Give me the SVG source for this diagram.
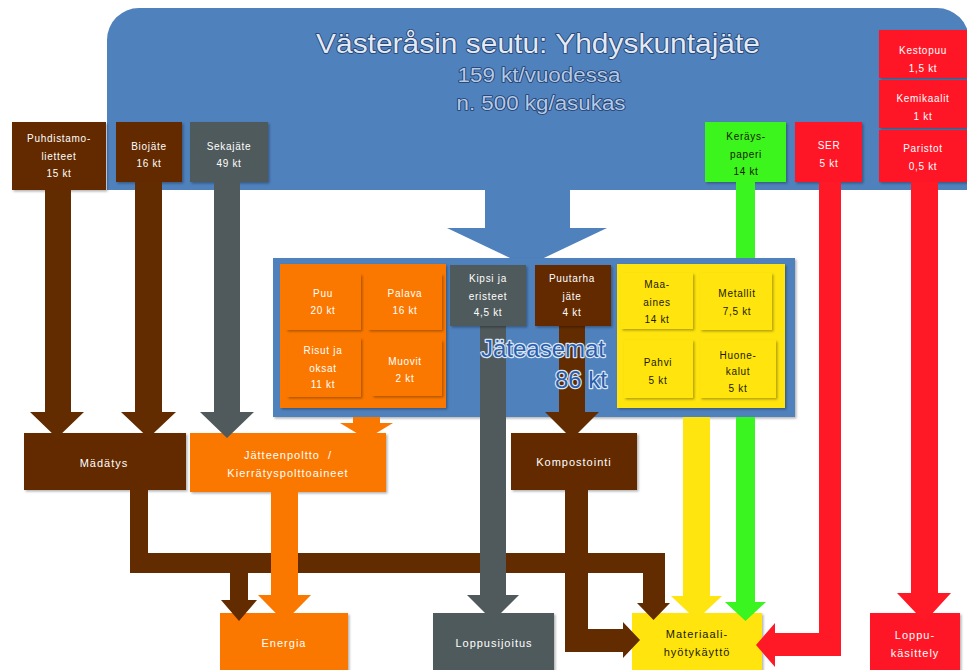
<svg xmlns="http://www.w3.org/2000/svg" width="967" height="670" viewBox="0 0 967 670">
<defs>
<filter id="sh" x="-10%" y="-10%" width="130%" height="130%">
<feDropShadow dx="1.5" dy="1.5" stdDeviation="1.2" flood-color="#000" flood-opacity="0.3"/>
</filter>
<style>
.brown{fill:#632c00}
.gray{fill:#505a5c}
.orange{fill:#fb7800}
.yellow{fill:#ffe50f}
.green{fill:#3af51f}
.red{fill:#ff1826}
.blue{fill:#4f81bd}
.box{filter:url(#sh)}
text{font-family:"Liberation Sans","Open Sans",sans-serif;text-anchor:middle}
.w{fill:#fff;font-size:10px;letter-spacing:0.7px}
.d{fill:#1a1a00;font-size:10px;letter-spacing:0.7px}
.lw{fill:#fff;font-size:11px;letter-spacing:1px}
.ld{fill:#1a1a00;font-size:11px;letter-spacing:1px}
.title{fill:#e3eaf4;stroke:#1f3d6c;stroke-width:1.6px;paint-order:stroke;stroke-linejoin:round}
.sub{fill:#b4c9e6;stroke:#1f3d6c;stroke-width:1.6px;paint-order:stroke;stroke-linejoin:round}
.jt{fill:#2a5eab;stroke:#dbe6f5;stroke-width:2.4px;paint-order:stroke;stroke-linejoin:round;font-size:24px;text-anchor:end}
</style>
</defs>

<g id="seutu">
<path class="blue" d="M107,190 V40 A32,32 0 0 1 139,8 H937 A32,32 0 0 1 969,40 V190 H570 V228 H607 L527,266 L447,228 H485 V190 Z"/>
<text class="title" x="538" y="53" font-size="28" textLength="444" lengthAdjust="spacingAndGlyphs">Västeråsin seutu: Yhdyskuntajäte</text>
<text class="sub" x="539" y="82" font-size="20" textLength="163" lengthAdjust="spacingAndGlyphs">159 kt/vuodessa</text>
<text class="sub" x="541" y="110" font-size="20" textLength="169" lengthAdjust="spacingAndGlyphs">n. 500 kg/asukas</text>
</g>

<g id="jateasemat">
<rect class="blue box" x="273" y="258" width="522" height="159"/>
</g>

<g id="puhdistamolietteet">
<rect class="brown box" x="12" y="122" width="94" height="68"/>
<text class="w" x="59" y="142">Puhdistamo-</text>
<text class="w" x="59" y="160">lietteet</text>
<text class="w" x="59" y="177">15 kt</text>
</g>
<g id="biojate">
<rect class="brown box" x="116" y="122" width="66" height="60"/>
<text class="w" x="149" y="150">Biojäte</text>
<text class="w" x="149" y="167">16 kt</text>
</g>
<g id="sekajate">
<rect class="gray box" x="190" y="122" width="78" height="60"/>
<text class="w" x="229" y="150">Sekajäte</text>
<text class="w" x="229" y="167">49 kt</text>
</g>
<g id="kerayspaperi">
<rect class="green box" x="705" y="122" width="81" height="60"/>
<text class="d" x="746" y="140">Keräys-</text>
<text class="d" x="746" y="158">paperi</text>
<text class="d" x="746" y="175">14 kt</text>
</g>
<g id="ser">
<rect class="red box" x="795" y="122" width="67" height="60"/>
<text class="w" x="829" y="149">SER</text>
<text class="w" x="829" y="167">5 kt</text>
</g>
<g id="kestopuu">
<rect class="red box" x="879" y="30" width="90" height="48"/>
<text class="w" x="923" y="54">Kestopuu</text>
<text class="w" x="923" y="72">1,5 kt</text>
</g>
<g id="kemikaalit">
<rect class="red box" x="879" y="80" width="90" height="48"/>
<text class="w" x="923" y="102">Kemikaalit</text>
<text class="w" x="923" y="120">1 kt</text>
</g>
<g id="paristot">
<rect class="red box" x="879" y="130" width="90" height="52"/>
<text class="w" x="923" y="152">Paristot</text>
<text class="w" x="923" y="170">0,5 kt</text>
</g>

<g id="madatys">
<rect class="brown box" x="24" y="433" width="162" height="57"/>
<text class="lw" x="104" y="467">Mädätys</text>
</g>
<g id="jatteenpoltto">
<rect class="orange box" x="190" y="433" width="196" height="59"/>
<text class="lw" x="288" y="459" xml:space="preserve">Jätteenpoltto  /</text>
<text class="lw" x="288" y="477">Kierrätyspolttoaineet</text>
</g>
<g id="kompostointi">
<rect class="brown box" x="511" y="433" width="126" height="57"/>
<text class="lw" x="574" y="466">Kompostointi</text>
</g>
<g id="energia">
<rect class="orange box" x="220" y="613" width="128" height="60"/>
<text class="lw" x="284" y="647">Energia</text>
</g>
<g id="loppusijoitus">
<rect class="gray box" x="433" y="613" width="121" height="60"/>
<text class="lw" x="494" y="647">Loppusijoitus</text>
</g>
<g id="materiaalihyotykaytto">
<rect class="yellow box" x="632" y="613" width="130" height="60"/>
<text class="ld" x="697" y="638">Materiaali-</text>
<text class="ld" x="697" y="656">hyötykäyttö</text>
</g>
<g id="loppukasittely">
<rect class="red box" x="870" y="613" width="90" height="60"/>
<text class="lw" x="915" y="639">Loppu-</text>
<text class="lw" x="915" y="657">käsittely</text>
</g>

<g id="connectors">
<polygon class="brown" points="45,190 71,190 71,412 84,412 57,438 30,412 45,412"/>
<polygon class="brown" points="135,182 162,182 162,412 176,412 148.5,438 121,412 135,412"/>
<polygon class="gray" points="214,182 240,182 240,412 254,412 227,438 200,412 214,412"/>
<polygon class="orange" points="353,417 380,417 380,423 393,423 366.5,439 340,423 353,423"/>
<path class="brown" d="M130,490 H148 V553 H665 V603 H670 L653.5,620 L637,603 H643 V573 H248 V600 H257 L239,621 L221,600 H230 V573 H130 Z"/>
<polygon class="orange" points="271,492 298,492 298,595 311,595 284.5,622 258,595 271,595"/>
<polygon class="gray" points="480,326 506,326 506,595 519,595 493,621 467,595 480,595"/>
<polygon class="brown" points="559,326 585,326 585,412 599,412 572,439 545,412 559,412"/>
<polygon class="brown" points="565,490 588,490 588,629 623,629 623,622 640,640 623,658 623,652 565,652"/>
<polygon class="yellow" points="683,417 710,417 710,596 722,596 696.5,620 671,596 683,596"/>
<path class="green" d="M736,182 H755 V258 H736 Z M736,417 H755 V602 H766 L745.5,621 L725,602 H736 Z"/>
<polygon class="red" points="819,182 841,182 841,656 775,656 775,667 756,645 775,623 775,633 819,633"/>
<polygon class="red" points="911,182 938,182 938,593 951,593 924.5,622 897,593 911,593"/>
</g>

<g id="jateasemat-label">
<text class="jt" x="605" y="357">Jäteasemat</text>
<text class="jt" x="607" y="388">86 kt</text>
</g>

<g id="orange-group">
<rect class="orange box" x="280" y="264" width="166" height="144"/>
</g>
<g id="puu">
<rect class="orange box" x="286" y="274" width="75" height="56"/>
<text class="w" x="323" y="297">Puu</text>
<text class="w" x="323" y="314">20 kt</text>
</g>
<g id="palava">
<rect class="orange box" x="368" y="274" width="74" height="56"/>
<text class="w" x="405" y="297">Palava</text>
<text class="w" x="405" y="314">16 kt</text>
</g>
<g id="risut">
<rect class="orange box" x="287" y="338" width="74" height="59"/>
<text class="w" x="323" y="354">Risut ja</text>
<text class="w" x="323" y="372">oksat</text>
<text class="w" x="323" y="388">11 kt</text>
</g>
<g id="muovit">
<rect class="orange box" x="372" y="340" width="70" height="56"/>
<text class="w" x="405" y="365">Muovit</text>
<text class="w" x="405" y="382">2 kt</text>
</g>
<g id="kipsi">
<rect class="gray box" x="450" y="265" width="76" height="61"/>
<text class="w" x="488" y="282">Kipsi ja</text>
<text class="w" x="488" y="300">eristeet</text>
<text class="w" x="488" y="316">4,5 kt</text>
</g>
<g id="puutarhajate">
<rect class="brown box" x="535" y="265" width="76" height="61"/>
<text class="w" x="572" y="282">Puutarha</text>
<text class="w" x="572" y="300">jäte</text>
<text class="w" x="572" y="316">4 kt</text>
</g>
<g id="yellow-group">
<rect class="yellow box" x="617" y="264" width="168" height="144"/>
</g>
<g id="maa-aines">
<rect class="yellow box" x="621" y="273" width="72" height="56"/>
<text class="d" x="657" y="288">Maa-</text>
<text class="d" x="657" y="306">aines</text>
<text class="d" x="657" y="323">14 kt</text>
</g>
<g id="metallit">
<rect class="yellow box" x="700" y="273" width="72" height="57"/>
<text class="d" x="737" y="297">Metallit</text>
<text class="d" x="737" y="315">7,5 kt</text>
</g>
<g id="pahvi">
<rect class="yellow box" x="624" y="340" width="69" height="58"/>
<text class="d" x="658" y="366">Pahvi</text>
<text class="d" x="658" y="384">5 kt</text>
</g>
<g id="huonekalut">
<rect class="yellow box" x="700" y="340" width="76" height="58"/>
<text class="d" x="738" y="359">Huone-</text>
<text class="d" x="738" y="375">kalut</text>
<text class="d" x="738" y="392">5 kt</text>
</g>
</svg>
